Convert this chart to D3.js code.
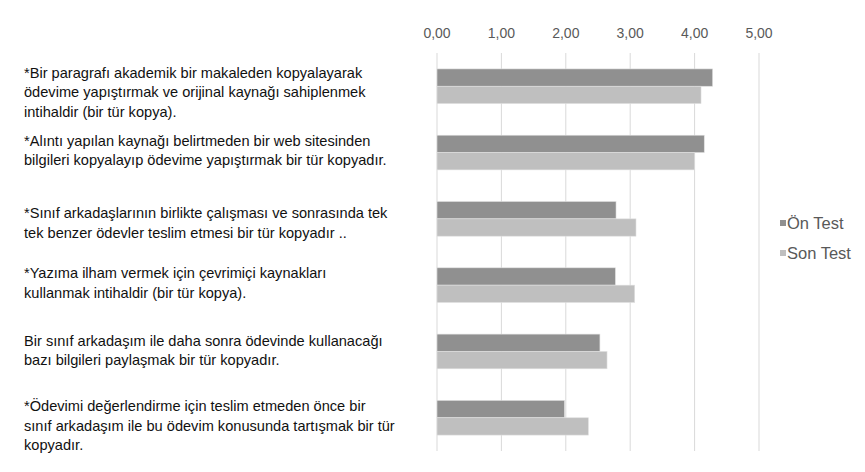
<!DOCTYPE html>
<html>
<head>
<meta charset="utf-8">
<script src="https://cdn.jsdelivr.net/npm/d3@7"></script>
<style>
  body { margin: 0; background: #fff; }
  svg { display: block; font-family: "Liberation Sans", Arial, sans-serif; }
</style>
</head>
<body>
<svg id="chart" width="865" height="472"></svg>
<script>
// Statements (top to bottom), each split into its display lines
const statements = [
  ['*Bir paragrafı akademik bir makaleden kopyalayarak', 'ödevime yapıştırmak ve orijinal kaynağı sahiplenmek', 'intihaldir (bir tür kopya).'],
  ['*Alıntı yapılan kaynağı belirtmeden bir web sitesinden', 'bilgileri kopyalayıp ödevime yapıştırmak bir tür kopyadır.'],
  ['*Sınıf arkadaşlarının birlikte çalışması ve sonrasında tek', 'tek benzer ödevler teslim etmesi bir tür kopyadır ..'],
  ['*Yazıma ilham vermek için çevrimiçi kaynakları', 'kullanmak intihaldir (bir tür kopya).'],
  ['Bir sınıf arkadaşım ile daha sonra ödevinde kullanacağı', 'bazı bilgileri paylaşmak bir tür kopyadır.'],
  ['*Ödevimi değerlendirme için teslim etmeden önce bir', 'sınıf arkadaşım ile bu ödevim konusunda tartışmak bir tür', 'kopyadır.']
];
const seriesNames = ['Ön Test', 'Son Test'];
const onTest = [4.28, 4.15, 2.78, 2.77, 2.53, 1.98];
const sonTest = [4.10, 4.00, 3.09, 3.07, 2.64, 2.35];
const ticks = [0, 1, 2, 3, 4, 5];
const colors = ['#909090', '#bfbfbf'];

// the text boxes are not exactly centred on their bars in the original
const labelNudge = [6, -2, 4, -2, -1, 8];

const svg = d3.select('#chart');
const idx = d3.range(statements.length);

const x = d3.scaleLinear().domain([0, 5]).range([437, 759]);
const y = d3.scaleBand().domain(idx).range([53, 451]).paddingInner(0.477).paddingOuter(0.24);
const ySub = d3.scaleBand().domain(seriesNames).range([0, y.bandwidth()]);

// gridlines
svg.append('g')
  .selectAll('line')
  .data(ticks)
  .join('line')
  .attr('x1', d => x(d)).attr('x2', d => x(d))
  .attr('y1', 53).attr('y2', 451)
  .attr('stroke', '#d9d9d9').attr('stroke-width', 1);

// top axis labels
const fmt = d => d.toFixed(2).replace('.', ',');
svg.append('g')
  .selectAll('text')
  .data(ticks)
  .join('text')
  .attr('x', d => x(d)).attr('y', 38)
  .attr('text-anchor', 'middle')
  .attr('font-size', 14).attr('fill', '#595959')
  .text(fmt);

// bars
const series = [onTest, sonTest];
series.forEach((vals, s) => {
  svg.append('g')
    .selectAll('rect')
    .data(idx)
    .join('rect')
    .attr('x', x(0))
    .attr('y', i => y(i) + ySub(seriesNames[s]))
    .attr('width', i => x(vals[i]) - x(0))
    .attr('height', ySub.bandwidth())
    .attr('fill', colors[s])
    .attr('stroke', '#e0e0e0').attr('stroke-width', 0.6);
});

// category labels
const lh = 19.5;
const lab = svg.append('g')
  .selectAll('text')
  .data(idx)
  .join('text')
  .attr('font-size', 14.6).attr('fill', '#111');
lab.each(function (i) {
  const lines = statements[i];
  const cy = y(i) + y.bandwidth() / 2;
  const y0 = cy - (lines.length - 1) * lh / 2 + 5 + labelNudge[i];
  d3.select(this).selectAll('tspan')
    .data(lines)
    .join('tspan')
    .attr('x', 24)
    .attr('y', (d, k) => y0 + k * lh)
    .text(d => d);
});

// legend
const lg = svg.append('g').attr('transform', 'translate(780,0)');
seriesNames.forEach((name, s) => {
  const ly = 223 + s * 30;
  lg.append('rect').attr('x', 0).attr('y', ly - 3).attr('width', 6).attr('height', 6).attr('fill', colors[s]);
  lg.append('text').attr('x', 7).attr('y', ly + 6)
    .attr('font-size', 16.5).attr('fill', '#595959').text(name);
});
</script>
</body>
</html>
